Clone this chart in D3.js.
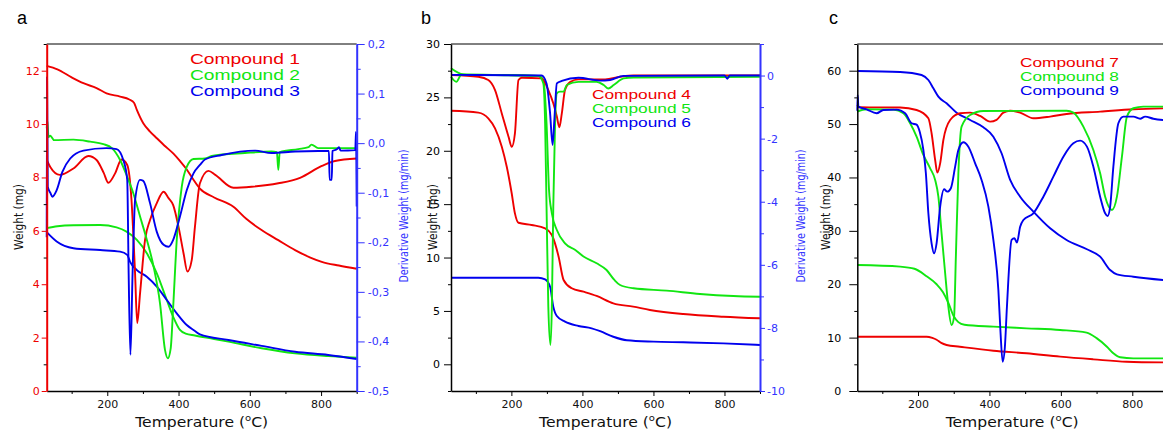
<!DOCTYPE html>
<html>
<head>
<meta charset="utf-8">
<script src="https://cdn.jsdelivr.net/npm/d3@7"></script>
<style>
  body { margin: 0; background: #fff; }
  svg { display: block; font-family: "DejaVu Sans", sans-serif; }
</style>
</head>
<body>
<svg id="chart" width="1163" height="430"></svg>
<script>
// temperature (°C) / value pairs

// panel a : weight (mg)
var comp1Weight = [[30,12.18],[60,12.05],[100,11.75],[133,11.53],[170,11.35],[198,11.15],[236,11.03],[262,10.92],[275,10.8],[283,10.53],[301,10.03],[320,9.72],[339,9.47],[360,9.2],[385,8.9],[405,8.6],[423,8.3],[440,7.95],[460,7.58],[500,7.25],[554,6.9],[590,6.45],[633,6.03],[680,5.65],[727,5.28],[770,5.0],[802,4.84],[850,4.7],[900,4.58]];
var comp2Weight = [[30,6.1],[60,6.17],[105,6.21],[180,6.22],[226,6.13],[254,5.97],[283,5.66],[311,5.16],[339,4.41],[367,3.41],[385,2.78],[404,2.29],[420,2.15],[446,2.08],[500,1.95],[540,1.85],[633,1.6],[727,1.41],[820,1.31],[900,1.25]];
var comp3Weight = [[30,5.95],[58,5.6],[105,5.35],[180,5.28],[236,5.22],[256,5.1],[264,4.84],[283,4.53],[311,4.28],[339,3.91],[367,3.41],[395,2.91],[423,2.47],[446,2.25],[460,2.12],[540,1.91],[633,1.69],[727,1.47],[820,1.35],[900,1.2]];
// panel a : derivative weight (mg/min)
var comp1Deriv = [[30,-0.034],[40,-0.048],[67,-0.064],[105,-0.051],[147,-0.026],[170,-0.034],[190,-0.06],[203,-0.08],[222,-0.061],[240,-0.033],[256,-0.044],[268,-0.115],[278,-0.263],[284,-0.363],[292,-0.303],[306,-0.195],[320,-0.155],[339,-0.121],[358,-0.098],[372,-0.111],[385,-0.125],[400,-0.169],[414,-0.222],[425,-0.259],[437,-0.236],[446,-0.169],[460,-0.081],[484,-0.056],[503,-0.064],[554,-0.09],[605,-0.088],[680,-0.081],[741,-0.07],[802,-0.046],[839,-0.036],[900,-0.031]];
var comp2Deriv = [[30,0.03],[32,0.045],[35,0.012],[40,0.015],[51,0.006],[105,0.007],[152,0.003],[189,-0.002],[213,-0.01],[236,-0.034],[256,-0.068],[273,-0.101],[292,-0.148],[311,-0.195],[330,-0.249],[348,-0.323],[362,-0.417],[370,-0.434],[378,-0.414],[385,-0.33],[395,-0.195],[409,-0.088],[423,-0.048],[442,-0.032],[474,-0.031],[493,-0.026],[586,-0.02],[661,-0.017],[676,-0.018],[680,-0.054],[684,-0.018],[736,-0.012],[765,-0.008],[773,-0.003],[792,-0.01],[900,-0.01]];
var comp3Deriv = [[30,-0.19],[31,0.134],[33,-0.088],[40,-0.1],[46,-0.108],[58,-0.095],[74,-0.058],[96,-0.031],[133,-0.015],[198,-0.01],[226,-0.012],[245,-0.034],[256,-0.074],[260,-0.263],[265,-0.427],[271,-0.263],[278,-0.115],[292,-0.074],[301,-0.076],[320,-0.121],[339,-0.179],[358,-0.205],[372,-0.209],[385,-0.195],[404,-0.148],[423,-0.095],[442,-0.061],[460,-0.044],[474,-0.033],[521,-0.024],[615,-0.015],[661,-0.02],[727,-0.017],[792,-0.016],[822,-0.016],[824,-0.074],[830,-0.074],[832,-0.016],[845,-0.012],[850,-0.008],[855,-0.015],[896,-0.014],[898,0.023],[900,-0.128]];

// panel b : weight (mg)
var comp4Weight = [[30,23.75],[107,23.57],[135,23.04],[154,22.1],[173,20.38],[187,18.5],[201,16.0],[210,14.14],[220,13.26],[257,13.05],[295,12.74],[314,12.11],[333,10.08],[347,7.9],[370,7.12],[403,6.8],[440,6.4],[487,5.71],[543,5.4],[590,5.09],[684,4.71],[797,4.46],[900,4.31]];
var comp5Weight = [[30,27.72],[64,27.16],[154,27.1],[276,27.0],[290,26.63],[299,22.57],[306,16.33],[314,14.14],[328,12.58],[351,11.33],[380,10.71],[403,10.1],[440,9.46],[468,8.83],[490,7.9],[506,7.43],[544,7.12],[637,6.9],[731,6.59],[825,6.4],[900,6.33]];
var comp6Weight = [[30,8.11],[276,8.11],[295,7.96],[309,7.27],[318,5.4],[328,4.52],[351,3.99],[389,3.59],[426,3.37],[450,3.1],[487,2.58],[525,2.25],[600,2.12],[684,2.06],[797,1.96],[900,1.81]];
// panel b : derivative weight (mg/min)
var comp4Deriv = [[30,0.017],[107,-0.04],[135,-0.14],[154,-0.46],[173,-1.2],[192,-1.94],[201,-2.26],[210,-1.83],[220,-0.14],[229,-0.07],[285,-0.09],[304,-0.46],[318,-0.88],[328,-1.3],[335,-1.64],[342,-1.2],[351,-0.46],[366,-0.2],[389,-0.12],[464,-0.12],[506,-0.04],[544,0.0],[900,0.0]];
var comp5Deriv = [[30,-0.04],[45,-0.2],[59,0.02],[154,0.02],[276,-0.01],[290,-0.25],[295,-1.51],[299,-4.16],[304,-7.33],[310,-8.54],[314,-7.33],[318,-4.16],[323,-1.51],[328,-0.56],[337,-0.51],[347,-0.51],[356,-0.3],[389,-0.2],[440,-0.2],[460,-0.3],[473,-0.41],[488,-0.3],[516,-0.09],[544,-0.06],[900,-0.04]];
var comp6Deriv = [[30,0.02],[285,0.0],[299,-0.25],[309,-1.2],[316,-2.2],[321,-1.41],[328,-0.25],[342,-0.17],[389,-0.07],[449,-0.16],[478,-0.14],[516,-0.01],[800,0.0],[808,-0.1],[815,0.0],[900,0.0]];

// panel c : weight (mg)
var comp7Weight = [[30,10.17],[224,10.17],[240,9.95],[252,9.6],[265,9.0],[280,8.62],[317,8.3],[411,7.55],[504,7.06],[598,6.43],[691,5.93],[784,5.49],[900,5.35]];
var comp8Weight = [[30,23.6],[150,23.3],[190,22.9],[224,21.5],[252,20.0],[270,18.5],[285,16.5],[300,14.0],[313,12.9],[330,12.4],[411,12.05],[504,11.74],[598,11.43],[672,10.93],[700,9.9],[729,8.3],[747,7.06],[766,6.31],[803,6.12],[900,6.12]];
var comp9Weight = [[30,59.95],[150,59.76],[210,59.2],[229,58.26],[243,56.7],[257,55.13],[280,53.89],[308,52.14],[346,50.77],[383,49.4],[411,47.64],[434,44.53],[458,39.53],[486,36.4],[523,33.6],[570,30.48],[616,28.29],[673,26.55],[710,25.16],[738,22.67],[757,21.86],[803,21.41],[900,20.7]];
// panel c : derivative curves (right scale not shown, read in weight units)
var comp7Deriv = [[30,53.6],[35,53.15],[150,53.1],[196,52.64],[229,51.08],[238,48.28],[248,43.27],[254,40.9],[262,42.65],[271,47.02],[290,50.77],[318,52.02],[346,52.14],[374,51.52],[402,50.46],[420,50.8],[439,52.14],[458,52.5],[486,52.14],[523,51.08],[570,51.4],[616,51.9],[710,52.33],[803,52.77],[900,52.96]];
var comp8Deriv = [[30,52.33],[56,52.77],[131,52.7],[159,52.02],[178,50.15],[196,47.64],[215,44.21],[234,41.72],[248,39.53],[257,36.4],[266,29.54],[276,22.05],[285,15.79],[294,12.36],[301,13.92],[306,25.16],[313,40.78],[322,49.52],[346,51.71],[383,52.45],[616,52.5],[635,52.14],[663,49.52],[691,45.15],[710,40.78],[724,36.4],[743,33.91],[757,36.4],[771,43.9],[785,51.4],[803,52.96],[831,53.27],[900,53.27]];
var comp9Deriv = [[30,52.5],[31,55.45],[33,53.27],[56,52.77],[84,52.02],[103,52.64],[140,52.7],[164,52.02],[182,50.15],[196,49.9],[205,48.5],[215,45.15],[222,40.78],[229,33.29],[238,27.67],[245,25.8],[252,27.67],[262,34.53],[273,37.78],[282,37.34],[292,37.97],[304,42.02],[313,45.15],[327,46.59],[341,45.77],[360,42.65],[378,39.53],[397,34.53],[411,28.29],[425,18.92],[431,11.0],[437,5.49],[443,8.0],[449,15.79],[462,28.29],[470,28.6],[477,27.8],[486,30.78],[495,32.03],[523,33.29],[551,36.4],[579,40.15],[607,43.9],[635,46.4],[654,46.9],[673,45.77],[691,42.02],[710,36.4],[724,33.29],[731,32.78],[738,34.53],[747,42.02],[761,50.15],[775,51.4],[803,51.4],[822,51.0],[836,51.4],[859,51.0],[900,50.7]];

var legendA = ["Compound 1", "Compound 2", "Compound 3"];
var legendB = ["Compound 4", "Compound 5", "Compound 6"];
var legendC = ["Compound 7", "Compound 8", "Compound 9"];
var tempTicks = [200, 400, 600, 800];
var tempMinor = [100, 300, 500, 700, 900];

var RED = "#ee0000", GREEN = "#11e611", BLUE = "#0000ee", AXBLUE = "#3333ff";
var plotTop = 44, plotBottom = 391;
var svg = d3.select("#chart");
svg.append("rect").attr("width", 1163).attr("height", 430).attr("fill", "#fff");

function hy(s) { return s.replace("\u2212", "-"); }

function drawPanel(p) {
  var x = d3.scaleLinear().domain([30, 900]).range([p.left, p.right]);
  var y = d3.scaleLinear().domain(p.wDomain).range([plotBottom, plotTop]);
  var y2 = p.dDomain ? d3.scaleLinear().domain(p.dDomain).range([plotBottom, plotTop]) : y;
  var g = svg.append("g");

  // curves
  var colors = [RED, GREEN, BLUE];
  function addLine(data, scale, color) {
    var line = d3.line()
      .x(function(d) { return x(d[0]); })
      .y(function(d) { return scale(d[1]); })
      .curve(d3.curveMonotoneX);
    g.append("path").datum(data)
      .attr("fill", "none")
      .attr("stroke", color)
      .attr("stroke-width", 1.9)
      .attr("stroke-linejoin", "round")
      .attr("d", line);
  }
  p.weights.forEach(function(s, i) { addLine(s, y, colors[i]); });
  p.derivs.forEach(function(s, i) { addLine(s, y2, colors[i]); });

  // frame top
  g.append("line").attr("x1", p.left).attr("x2", p.right)
    .attr("y1", plotTop).attr("y2", plotTop)
    .attr("stroke", "#000").attr("stroke-width", 1);

  // x axis
  var xAxis = g.append("g").attr("transform", "translate(0," + plotBottom + ")")
    .call(d3.axisBottom(x).tickValues(tempTicks).tickSize(5).tickPadding(4).tickSizeOuter(0));
  g.append("g").attr("transform", "translate(0," + plotBottom + ")")
    .call(d3.axisBottom(x).tickValues(tempMinor).tickSize(3).tickFormat("").tickSizeOuter(0))
    .select(".domain").remove();
  xAxis.selectAll("text").attr("font-size", 11).attr("font-family", "DejaVu Sans").attr("fill", "#111");
  xAxis.select(".domain").attr("stroke-width", 1.5);

  var title = g.append("text")
    .attr("x", (p.left + Math.min(p.right, 1163)) / 2 + p.titleShift)
    .attr("y", 427)
    .attr("text-anchor", "middle")
    .attr("font-size", 14)
    .attr("textLength", 133).attr("lengthAdjust", "spacingAndGlyphs")
    .attr("fill", "#111");
  title.append("tspan").text("Temperature (");
  title.append("tspan").attr("font-size", 9).attr("dy", -6).text("o");
  title.append("tspan").attr("dy", 6).text("C)");

  // left axis
  var yAxis = g.append("g").attr("transform", "translate(" + p.left + ",0)")
    .call(d3.axisLeft(y).tickValues(p.wTicks).tickSize(p.lTick).tickPadding(p.lPad).tickSizeOuter(0));
  g.append("g").attr("transform", "translate(" + p.left + ",0)")
    .call(d3.axisLeft(y).tickValues(p.wMinor).tickSize(3).tickFormat("").tickSizeOuter(0))
    .select(".domain").remove();
  yAxis.selectAll("text").attr("font-size", 11).attr("font-family", "DejaVu Sans").attr("fill", p.leftColor);
  yAxis.selectAll("line").attr("stroke", p.leftColor);
  yAxis.select(".domain").attr("stroke", p.leftColor).attr("stroke-width", p.leftColor === "#000" ? 1.5 : 2);
  g.selectAll("g").filter(function() { return false; });

  g.append("text")
    .attr("transform", "translate(" + p.wTitleX + ",217) rotate(-90)")
    .attr("dy", "0.35em")
    .attr("text-anchor", "middle")
    .attr("font-size", 13)
    .attr("textLength", 66).attr("lengthAdjust", "spacingAndGlyphs")
    .attr("fill", "#111")
    .text("Weight (mg)");

  // right axis
  if (p.dDomain) {
    var rAxis = g.append("g").attr("transform", "translate(" + p.right + ",0)")
      .call(d3.axisRight(y2).tickValues(p.dTicks).tickSize(p.rTick).tickPadding(p.rPad).tickSizeOuter(0).tickFormat(p.dFormat));
    var rMinor = g.append("g").attr("transform", "translate(" + p.right + ",0)")
      .call(d3.axisRight(y2).tickValues(p.dMinor).tickSize(4).tickFormat("").tickSizeOuter(0));
    rMinor.select(".domain").remove();
    rMinor.selectAll("line").attr("stroke", AXBLUE);
    rAxis.selectAll("text").attr("font-size", 11).attr("font-family", "DejaVu Sans").attr("fill", AXBLUE);
    rAxis.selectAll("line").attr("stroke", AXBLUE);
    rAxis.select(".domain").attr("stroke", AXBLUE).attr("stroke-width", 2);

    g.append("text")
      .attr("transform", "translate(" + p.dTitleX + ",216) rotate(-90)")
      .attr("dy", "0.35em")
      .attr("text-anchor", "middle")
      .attr("font-size", 13)
      .attr("textLength", 133).attr("lengthAdjust", "spacingAndGlyphs")
      .attr("fill", AXBLUE)
      .text("Derivative Weight (mg/min)");
  }

  // legend
  p.legend.forEach(function(name, i) {
    g.append("text")
      .attr("x", p.legX).attr("y", p.legY + i * p.legStep)
      .attr("font-family", "Liberation Sans, Arial, sans-serif")
      .attr("font-size", p.legSize)
      .attr("textLength", p.legLen).attr("lengthAdjust", "spacingAndGlyphs")
      .attr("fill", colors[i])
      .text(name);
  });

  // panel letter
  g.append("text")
    .attr("x", p.letterX).attr("y", 24)
    .attr("font-family", "Liberation Sans, Arial, sans-serif")
    .attr("font-size", 18)
    .attr("fill", "#000")
    .text(p.letter);
}

drawPanel({
  letter: "a", letterX: 17,
  left: 46.7, right: 356.7, titleShift: 0,
  wDomain: [0, 13], wTicks: d3.range(0, 13, 2), wMinor: d3.range(1, 14, 2),
  lTick: 5, lPad: 2, leftColor: RED, wTitleX: 18,
  dDomain: [-0.5, 0.2], dTicks: d3.range(-5, 3).map(function(v) { return v / 10; }),
  dMinor: d3.range(-9, 4, 2).map(function(v) { return v / 20; }),
  rTick: 8, rPad: 3,
  dFormat: function(d) { return hy(d3.format(".1f")(d)).replace(".", ","); },
  dTitleX: 403,
  weights: [comp1Weight, comp2Weight, comp3Weight],
  derivs: [comp1Deriv, comp2Deriv, comp3Deriv],
  legend: legendA, legX: 190, legY: 64, legStep: 16, legSize: 15, legLen: 110
});

drawPanel({
  letter: "b", letterX: 421,
  left: 451, right: 760, titleShift: 0,
  wDomain: [-2.5, 30], wTicks: d3.range(0, 31, 5), wMinor: d3.range(-2.5, 30, 5),
  lTick: 7, lPad: 4, leftColor: "#000", wTitleX: 432,
  dDomain: [-10, 1], dTicks: d3.range(-10, 1, 2), dMinor: d3.range(-9, 2, 2),
  rTick: 5, rPad: 2,
  dFormat: function(d) { return hy(d3.format("d")(d)); },
  dTitleX: 800,
  weights: [comp4Weight, comp5Weight, comp6Weight],
  derivs: [comp4Deriv, comp5Deriv, comp6Deriv],
  legend: legendB, legX: 592, legY: 99, legStep: 14, legSize: 13, legLen: 99
});

drawPanel({
  letter: "c", letterX: 829,
  left: 857.3, right: 1168, titleShift: 2,
  wDomain: [0, 65], wTicks: d3.range(0, 61, 10), wMinor: d3.range(5, 66, 10),
  lTick: 8, lPad: 8, leftColor: "#000", wTitleX: 825,
  dDomain: null,
  weights: [comp7Weight, comp8Weight, comp9Weight],
  derivs: [comp7Deriv, comp8Deriv, comp9Deriv],
  legend: legendC, legX: 1020, legY: 67, legStep: 14, legSize: 13, legLen: 99
});
</script>
</body>
</html>
